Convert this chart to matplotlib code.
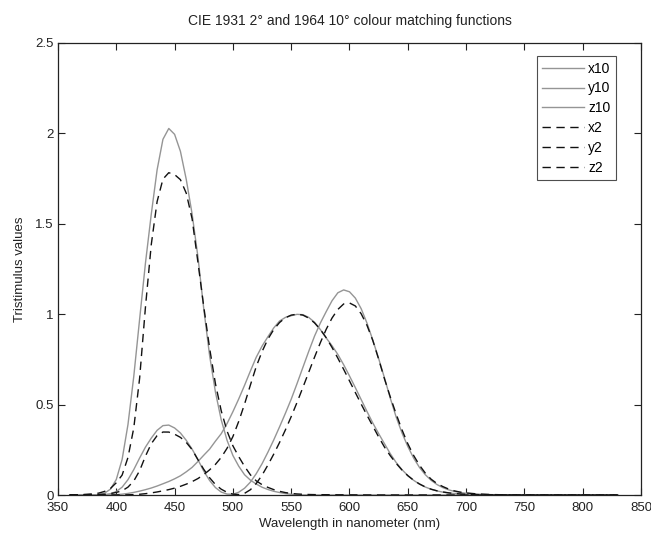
import numpy as np
import matplotlib
matplotlib.use("Agg")
import matplotlib.pyplot as plt

wl = [360, 370, 380, 385, 390, 395, 400, 405, 410, 415, 420, 425, 430, 435, 440, 445,
      450, 455, 460, 465, 470, 475, 480, 485, 490, 495, 500, 505, 510, 515, 520, 525,
      530, 535, 540, 545, 550, 555, 560, 565, 570, 575, 580, 585, 590, 595, 600, 605,
      610, 615, 620, 625, 630, 635, 640, 645, 650, 655, 660, 665, 670, 675, 680, 685,
      690, 695, 700, 710, 720, 730, 740, 750, 760, 770, 780, 790, 800, 810, 820, 830]

x2 = [0.000130, 0.000415, 0.001368, 0.002236, 0.004243, 0.007650, 0.014310, 0.023190,
      0.043510, 0.077630, 0.134380, 0.214770, 0.283900, 0.328500, 0.348280, 0.348060,
      0.336200, 0.318700, 0.290800, 0.251100, 0.195360, 0.142100, 0.095640, 0.057950,
      0.032010, 0.014700, 0.004900, 0.002400, 0.009300, 0.029100, 0.063270, 0.109600,
      0.165500, 0.225750, 0.290400, 0.359700, 0.433450, 0.512050, 0.594500, 0.678400,
      0.762100, 0.842500, 0.916300, 0.978600, 1.026300, 1.056700, 1.062200, 1.045600,
      1.002600, 0.938400, 0.854450, 0.751400, 0.642400, 0.541900, 0.447900, 0.360800,
      0.283500, 0.218700, 0.164900, 0.121200, 0.087400, 0.063600, 0.046770, 0.032900,
      0.022700, 0.015840, 0.011359, 0.005790, 0.002899, 0.001440, 0.000690, 0.000332,
      0.000166, 0.000083, 0.000042, 0.000021, 0.000010, 0.000005, 0.000003, 0.000001]

y2 = [0.000004, 0.000012, 0.000039, 0.000064, 0.000120, 0.000217, 0.000396, 0.000640,
      0.001210, 0.002180, 0.004000, 0.007300, 0.011600, 0.016840, 0.023000, 0.029800,
      0.038000, 0.048000, 0.060000, 0.073900, 0.090980, 0.112600, 0.139020, 0.169300,
      0.208020, 0.258600, 0.323000, 0.407300, 0.503000, 0.608200, 0.710000, 0.793200,
      0.862000, 0.914850, 0.954000, 0.980300, 0.994950, 1.000000, 0.995000, 0.978600,
      0.952000, 0.915400, 0.870000, 0.816300, 0.757000, 0.694900, 0.631000, 0.566800,
      0.503000, 0.441200, 0.381000, 0.321000, 0.265000, 0.217000, 0.175000, 0.138200,
      0.107000, 0.081600, 0.061000, 0.044580, 0.032000, 0.023200, 0.017000, 0.011920,
      0.008210, 0.005723, 0.004102, 0.002091, 0.001047, 0.000520, 0.000249, 0.000120,
      0.000060, 0.000030, 0.000015, 0.000008, 0.000004, 0.000002, 0.000001, 0.000000]

z2 = [0.000606, 0.001946, 0.006450, 0.010550, 0.020050, 0.036210, 0.067850, 0.110200,
      0.207400, 0.371300, 0.645600, 1.039050, 1.385600, 1.622960, 1.747060, 1.782600,
      1.772110, 1.744100, 1.669200, 1.528100, 1.287640, 1.041900, 0.812950, 0.616200,
      0.465180, 0.353300, 0.272000, 0.212300, 0.158200, 0.111700, 0.078250, 0.057250,
      0.042160, 0.029840, 0.020300, 0.013400, 0.008750, 0.005750, 0.003900, 0.002750,
      0.002100, 0.001800, 0.001650, 0.001400, 0.001100, 0.001000, 0.000800, 0.000600,
      0.000340, 0.000240, 0.000190, 0.000100, 0.000050, 0.000030, 0.000020, 0.000010,
      0, 0, 0, 0, 0, 0, 0, 0, 0, 0, 0, 0, 0, 0, 0, 0, 0, 0, 0, 0, 0, 0, 0, 0]

x10 = [0.000000, 0.000006, 0.000160, 0.000662, 0.002362, 0.007242, 0.019110, 0.043400,
       0.084736, 0.140638, 0.204492, 0.264737, 0.314679, 0.357719, 0.383734, 0.386726,
       0.370702, 0.342957, 0.302273, 0.254085, 0.195618, 0.132349, 0.080507, 0.041072,
       0.016172, 0.005132, 0.003816, 0.015444, 0.037465, 0.071358, 0.117749, 0.172953,
       0.236491, 0.304213, 0.376772, 0.451584, 0.529826, 0.616053, 0.705224, 0.793832,
       0.878655, 0.951162, 1.014160, 1.074300, 1.118520, 1.134300, 1.123990, 1.089100,
       1.030480, 0.950740, 0.856297, 0.754930, 0.647467, 0.535110, 0.431567, 0.343690,
       0.268329, 0.204300, 0.152568, 0.112210, 0.081261, 0.057930, 0.040851, 0.028623,
       0.019941, 0.013842, 0.009577, 0.004553, 0.002175, 0.001045, 0.000508, 0.000251,
       0.000126, 0.000065, 0.000033, 0.000017, 0.000009, 0.000005, 0.000002, 0.000001]

y10 = [0.000000, 0.000001, 0.000017, 0.000072, 0.000253, 0.000769, 0.002004, 0.004509,
       0.008756, 0.014456, 0.021391, 0.029497, 0.038676, 0.049602, 0.062077, 0.074704,
       0.089456, 0.106256, 0.128201, 0.152761, 0.185190, 0.219940, 0.253589, 0.297665,
       0.339133, 0.395379, 0.460777, 0.531360, 0.606741, 0.685660, 0.761757, 0.823330,
       0.875211, 0.923810, 0.961988, 0.982200, 0.991761, 0.999110, 0.997340, 0.982380,
       0.955552, 0.915175, 0.868934, 0.825623, 0.777405, 0.720353, 0.658341, 0.593878,
       0.527963, 0.461834, 0.398057, 0.339554, 0.283493, 0.228254, 0.179828, 0.140211,
       0.107633, 0.081187, 0.060281, 0.044096, 0.031800, 0.022602, 0.015905, 0.011130,
       0.007749, 0.005375, 0.003718, 0.001768, 0.000846, 0.000407, 0.000199, 0.000098,
       0.000050, 0.000025, 0.000013, 0.000007, 0.000003, 0.000002, 0.000001, 0.000000]

z10 = [0.000001, 0.000026, 0.000705, 0.002928, 0.010482, 0.032344, 0.086011, 0.197120,
       0.389366, 0.656760, 0.972542, 1.282500, 1.553480, 1.798500, 1.967280, 2.027300,
       1.994800, 1.900700, 1.745370, 1.554900, 1.317560, 1.030200, 0.772125, 0.570060,
       0.415254, 0.302356, 0.218502, 0.159249, 0.112044, 0.082248, 0.060709, 0.043050,
       0.030451, 0.020584, 0.013676, 0.007918, 0.003988, 0.001091, 0, 0, 0, 0, 0, 0,
       0, 0, 0, 0, 0, 0, 0, 0, 0, 0, 0, 0, 0, 0, 0, 0, 0, 0, 0, 0, 0, 0, 0, 0, 0, 0,
       0, 0, 0, 0, 0, 0, 0, 0, 0, 0]

xticks = [350, 400, 450, 500, 550, 600, 650, 700, 750, 800, 850]
yticks = [0, 0.5, 1, 1.5, 2, 2.5]
ytick_labels = ["0", "0.5", "1", "1.5", "2", "2.5"]

plt.rcParams['font.family'] = ['Liberation Sans', 'DejaVu Sans']

fig = plt.figure(figsize=(6.51, 5.33), dpi=100)
ax = fig.add_axes([58 / 651, 1 - 495 / 533, (641 - 58) / 651, (495 - 43) / 533])

gray = '#959595'
ax.plot(wl, x10, color=gray, lw=1.0, label='x10')
ax.plot(wl, y10, color=gray, lw=1.0, label='y10')
ax.plot(wl, z10, color=gray, lw=1.0, label='z10')
for arr, lab in [(x2, 'x2'), (y2, 'y2'), (z2, 'z2')]:
    ax.plot(wl, arr, color='#111111', lw=1.0, ls=(0, (6, 4)), label=lab)

ax.set_xlim(350, 850)
ax.set_ylim(0, 2.5)
ax.set_xticks(xticks)
ax.set_xticklabels([str(t) for t in xticks])
ax.set_yticks(yticks)
ax.set_yticklabels(ytick_labels)
ax.tick_params(direction='in', top=True, right=True, length=5, width=0.8,
               labelsize=9.5, colors='#222222')
ax.tick_params(axis='x', pad=5)
ax.tick_params(axis='y', pad=3)
for s in ax.spines.values():
    s.set_linewidth(0.9)
    s.set_color('#222222')

ax.set_title('CIE 1931 2° and 1964 10° colour matching functions', fontsize=10,
             color='#222222', pad=13)
ax.set_xlabel('Wavelength in nanometer (nm)', fontsize=9.5, color='#222222', labelpad=3)
ax.set_ylabel('Tristimulus values', fontsize=9.5, color='#222222', labelpad=7)

leg = ax.legend(loc='upper right', bbox_to_anchor=(616 / 651, 1 - 56 / 533),
                bbox_transform=fig.transFigure, borderaxespad=0, fontsize=10,
                frameon=True, fancybox=False, edgecolor='#222222', handlelength=3.0,
                labelspacing=0.42, borderpad=0.4, handletextpad=0.3)
leg.get_frame().set_linewidth(0.8)

fig.savefig('out.png', dpi=100)
